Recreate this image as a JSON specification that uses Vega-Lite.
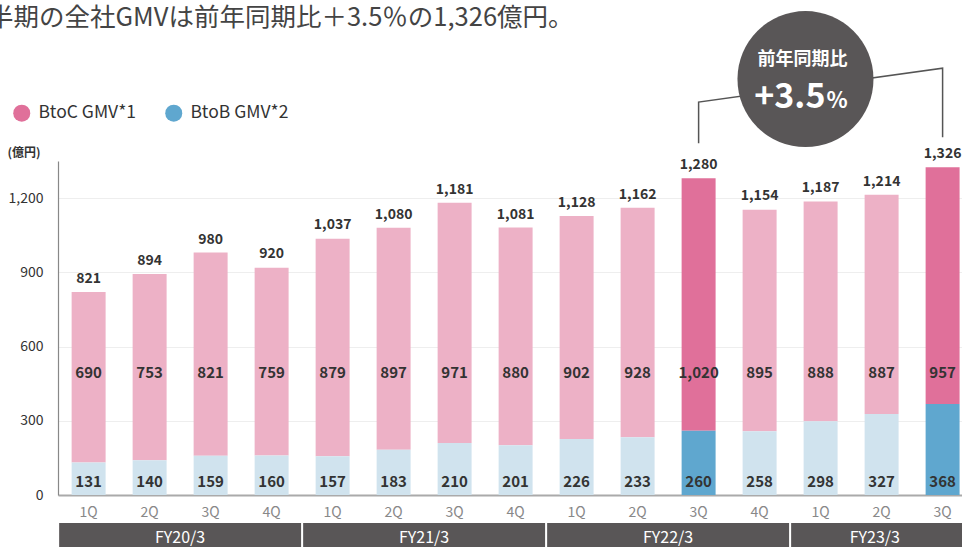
{
  "$schema": "https://vega.github.io/schema/vega-lite/v6.json",
  "width": 904,
  "height": 334,
  "autosize": {"type": "none"},
  "padding": {"left": 58, "top": 161, "right": 0, "bottom": 52},
  "title": {
    "text": "半期の全社GMVは前年同期比＋3.5％の1,326億円。",
    "anchor": "start",
    "frame": "group",
    "fontSize": 25.5,
    "fontWeight": "normal",
    "color": "#444444",
    "font": "Noto Sans CJK JP",
    "dx": -70,
    "dy": 24
  },
  "datasets": {
    "gmv": [
      {"key": "FY20/3 1Q", "segment": "BtoC GMV*1", "value": 690, "hl": false},
      {"key": "FY20/3 1Q", "segment": "BtoB GMV*2", "value": 131, "hl": false},
      {"key": "FY20/3 2Q", "segment": "BtoC GMV*1", "value": 753, "hl": false},
      {"key": "FY20/3 2Q", "segment": "BtoB GMV*2", "value": 140, "hl": false},
      {"key": "FY20/3 3Q", "segment": "BtoC GMV*1", "value": 821, "hl": false},
      {"key": "FY20/3 3Q", "segment": "BtoB GMV*2", "value": 159, "hl": false},
      {"key": "FY20/3 4Q", "segment": "BtoC GMV*1", "value": 759, "hl": false},
      {"key": "FY20/3 4Q", "segment": "BtoB GMV*2", "value": 160, "hl": false},
      {"key": "FY21/3 1Q", "segment": "BtoC GMV*1", "value": 879, "hl": false},
      {"key": "FY21/3 1Q", "segment": "BtoB GMV*2", "value": 157, "hl": false},
      {"key": "FY21/3 2Q", "segment": "BtoC GMV*1", "value": 897, "hl": false},
      {"key": "FY21/3 2Q", "segment": "BtoB GMV*2", "value": 183, "hl": false},
      {"key": "FY21/3 3Q", "segment": "BtoC GMV*1", "value": 971, "hl": false},
      {"key": "FY21/3 3Q", "segment": "BtoB GMV*2", "value": 210, "hl": false},
      {"key": "FY21/3 4Q", "segment": "BtoC GMV*1", "value": 880, "hl": false},
      {"key": "FY21/3 4Q", "segment": "BtoB GMV*2", "value": 201, "hl": false},
      {"key": "FY22/3 1Q", "segment": "BtoC GMV*1", "value": 902, "hl": false},
      {"key": "FY22/3 1Q", "segment": "BtoB GMV*2", "value": 226, "hl": false},
      {"key": "FY22/3 2Q", "segment": "BtoC GMV*1", "value": 928, "hl": false},
      {"key": "FY22/3 2Q", "segment": "BtoB GMV*2", "value": 233, "hl": false},
      {"key": "FY22/3 3Q", "segment": "BtoC GMV*1", "value": 1020, "hl": true},
      {"key": "FY22/3 3Q", "segment": "BtoB GMV*2", "value": 260, "hl": true},
      {"key": "FY22/3 4Q", "segment": "BtoC GMV*1", "value": 895, "hl": false},
      {"key": "FY22/3 4Q", "segment": "BtoB GMV*2", "value": 258, "hl": false},
      {"key": "FY23/3 1Q", "segment": "BtoC GMV*1", "value": 888, "hl": false},
      {"key": "FY23/3 1Q", "segment": "BtoB GMV*2", "value": 298, "hl": false},
      {"key": "FY23/3 2Q", "segment": "BtoC GMV*1", "value": 887, "hl": false},
      {"key": "FY23/3 2Q", "segment": "BtoB GMV*2", "value": 327, "hl": false},
      {"key": "FY23/3 3Q", "segment": "BtoC GMV*1", "value": 957, "hl": true},
      {"key": "FY23/3 3Q", "segment": "BtoB GMV*2", "value": 368, "hl": true}
    ],
    "totals": [
      {"key": "FY20/3 1Q", "total": 821},
      {"key": "FY20/3 2Q", "total": 894},
      {"key": "FY20/3 3Q", "total": 980},
      {"key": "FY20/3 4Q", "total": 920},
      {"key": "FY21/3 1Q", "total": 1037},
      {"key": "FY21/3 2Q", "total": 1080},
      {"key": "FY21/3 3Q", "total": 1181},
      {"key": "FY21/3 4Q", "total": 1081},
      {"key": "FY22/3 1Q", "total": 1128},
      {"key": "FY22/3 2Q", "total": 1162},
      {"key": "FY22/3 3Q", "total": 1280},
      {"key": "FY22/3 4Q", "total": 1154},
      {"key": "FY23/3 1Q", "total": 1187},
      {"key": "FY23/3 2Q", "total": 1214},
      {"key": "FY23/3 3Q", "total": 1326}
    ],
    "fy": [
      {"fy": "FY20/3", "start": "FY20/3 1Q", "mid": "FY20/3 2Q", "end": "FY20/3 4Q", "full": true},
      {"fy": "FY21/3", "start": "FY21/3 1Q", "mid": "FY21/3 2Q", "end": "FY21/3 4Q", "full": true},
      {"fy": "FY22/3", "start": "FY22/3 1Q", "mid": "FY22/3 2Q", "end": "FY22/3 4Q", "full": true},
      {"fy": "FY23/3", "start": "FY23/3 1Q", "mid": "FY23/3 2Q", "end": "FY23/3 3Q", "full": false}
    ],
    "conn": [
      {"key": "FY22/3 3Q", "v": 1422, "o": 1},
      {"key": "FY22/3 3Q", "v": 1588, "o": 2},
      {"key": "FY23/3 3Q", "v": 1725, "o": 3},
      {"key": "FY23/3 3Q", "v": 1446, "o": 4}
    ]
  },
  "encoding": {
    "x": {
      "field": "key",
      "type": "nominal",
      "scale": {
        "domain": ["FY20/3 1Q", "FY20/3 2Q", "FY20/3 3Q", "FY20/3 4Q", "FY21/3 1Q", "FY21/3 2Q", "FY21/3 3Q", "FY21/3 4Q", "FY22/3 1Q", "FY22/3 2Q", "FY22/3 3Q", "FY22/3 4Q", "FY23/3 1Q", "FY23/3 2Q", "FY23/3 3Q"],
        "paddingInner": 0.443,
        "paddingOuter": 0.1315,
        "align": 0.85
      },
      "axis": {
        "title": null,
        "labelExpr": "split(datum.label, ' ')[1]",
        "labelAngle": 0,
        "labelFontSize": 14,
        "labelColor": "#888888",
        "labelPadding": 10,
        "ticks": false,
        "domainColor": "#aaaaaa",
        "domainWidth": 2
      }
    }
  },
  "layer": [
    {
      "data": {"name": "gmv"},
      "mark": {"type": "bar"},
      "encoding": {
        "y": {
          "field": "value",
          "type": "quantitative",
          "stack": "zero",
          "scale": {"domain": [0, 1350], "nice": false},
          "axis": {
            "values": [0, 300, 600, 900, 1200],
            "format": ",.0f",
            "title": "(億円)",
            "titleAngle": 0,
            "titleAlign": "left",
            "titleBaseline": "middle",
            "titleX": -51,
            "titleY": -9,
            "titleFontSize": 12,
            "titleFontWeight": "bold",
            "titleColor": "#333333",
            "labelFontSize": 14,
            "labelColor": "#333333",
            "labelPadding": 15,
            "ticks": false,
            "domainColor": "#888888",
            "domainWidth": 1.2,
            "gridColor": "#eeeeee"
          }
        },
        "order": {"field": "segment", "sort": "ascending"},
        "color": {
          "field": "segment",
          "type": "nominal",
          "scale": {"domain": ["BtoC GMV*1", "BtoB GMV*2"], "range": ["#e0709a", "#5fa7cf"]},
          "condition": [
            {"test": "!datum.hl && datum.segment === 'BtoC GMV*1'", "value": "#edb1c6"},
            {"test": "!datum.hl && datum.segment === 'BtoB GMV*2'", "value": "#d0e3ee"}
          ],
          "legend": {
            "title": null,
            "orient": "none",
            "legendX": -45,
            "legendY": -57,
            "direction": "horizontal",
            "symbolType": "circle",
            "symbolSize": 289,
            "symbolStrokeWidth": 0,
            "labelFontSize": 17.5,
            "labelColor": "#333333",
            "labelOffset": 8,
            "columnPadding": 28,
            "padding": 0
          }
        }
      }
    },
    {
      "data": {"name": "gmv"},
      "transform": [{"filter": "datum.segment === 'BtoC GMV*1'"}],
      "mark": {"type": "text", "baseline": "alphabetic", "fontSize": 15, "fontWeight": "bold", "color": "#333333"},
      "encoding": {
        "y": {"datum": 473},
        "text": {"field": "value", "type": "quantitative", "format": ","}
      }
    },
    {
      "data": {"name": "gmv"},
      "transform": [{"filter": "datum.segment === 'BtoB GMV*2'"}],
      "mark": {"type": "text", "baseline": "alphabetic", "fontSize": 15, "fontWeight": "bold", "color": "#333333"},
      "encoding": {
        "y": {"datum": 32},
        "text": {"field": "value", "type": "quantitative", "format": ","}
      }
    },
    {
      "data": {"name": "totals"},
      "mark": {"type": "text", "baseline": "alphabetic", "dy": -9, "fontSize": 14, "fontWeight": "bold", "color": "#333333"},
      "encoding": {
        "y": {"field": "total", "type": "quantitative"},
        "text": {"field": "total", "type": "quantitative", "format": ","}
      }
    },
    {
      "data": {"name": "fy"},
      "mark": {"type": "rect", "color": "#595657", "xOffset": 1, "x2Offset": -1},
      "encoding": {
        "x": {"field": "start", "type": "nominal", "bandPosition": -0.397},
        "x2": {"field": "end", "bandPosition": 1.397},
        "y": {"datum": -113},
        "y2": {"datum": -400}
      }
    },
    {
      "data": {"name": "fy"},
      "transform": [{"filter": "datum.full"}],
      "mark": {"type": "text", "color": "#ffffff", "fontSize": 16, "baseline": "middle"},
      "encoding": {
        "x": {"field": "mid", "type": "nominal", "bandPosition": 1.397},
        "y": {"datum": -174},
        "text": {"field": "fy"}
      }
    },
    {
      "data": {"name": "fy"},
      "transform": [{"filter": "!datum.full"}],
      "mark": {"type": "text", "color": "#ffffff", "fontSize": 16, "baseline": "middle"},
      "encoding": {
        "x": {"field": "mid", "type": "nominal", "bandPosition": 0.3},
        "y": {"datum": -174},
        "text": {"field": "fy"}
      }
    },
    {
      "data": {"name": "conn"},
      "mark": {"type": "line", "color": "#555555", "strokeWidth": 1.5},
      "encoding": {
        "y": {"field": "v", "type": "quantitative"},
        "order": {"field": "o"}
      }
    },
    {
      "data": {"values": [{"label": "前年同期比"}]},
      "mark": {"type": "point", "shape": "circle", "filled": true, "opacity": 1, "color": "#595657", "size": 18500},
      "encoding": {
        "x": {"datum": "FY22/3 4Q", "bandPosition": 1.85},
        "y": {"datum": 1681}
      }
    },
    {
      "data": {"values": [{"label": "前年同期比"}]},
      "mark": {"type": "text", "color": "#ffffff", "fontSize": 18, "fontWeight": "bold", "baseline": "middle", "dx": -3},
      "encoding": {
        "x": {"datum": "FY22/3 4Q", "bandPosition": 1.85},
        "y": {"datum": 1758},
        "text": {"field": "label"}
      }
    },
    {
      "data": {"values": [{"label": "+3.5"}]},
      "mark": {"type": "text", "color": "#ffffff", "fontSize": 34, "fontWeight": "bold", "baseline": "alphabetic", "align": "right", "dx": 20},
      "encoding": {
        "x": {"datum": "FY22/3 4Q", "bandPosition": 1.85},
        "y": {"datum": 1564},
        "text": {"field": "label"}
      }
    },
    {
      "data": {"values": [{"label": "%"}]},
      "mark": {"type": "text", "color": "#ffffff", "fontSize": 22, "fontWeight": "bold", "baseline": "alphabetic", "align": "left", "dx": 21},
      "encoding": {
        "x": {"datum": "FY22/3 4Q", "bandPosition": 1.85},
        "y": {"datum": 1564},
        "text": {"field": "label"}
      }
    }
  ],
  "config": {
    "view": {"stroke": null},
    "font": "Noto Sans CJK JP",
    "axis": {"labelFont": "Noto Sans CJK JP", "titleFont": "Noto Sans CJK JP"},
    "legend": {"labelFont": "Noto Sans CJK JP"}
  }
}
